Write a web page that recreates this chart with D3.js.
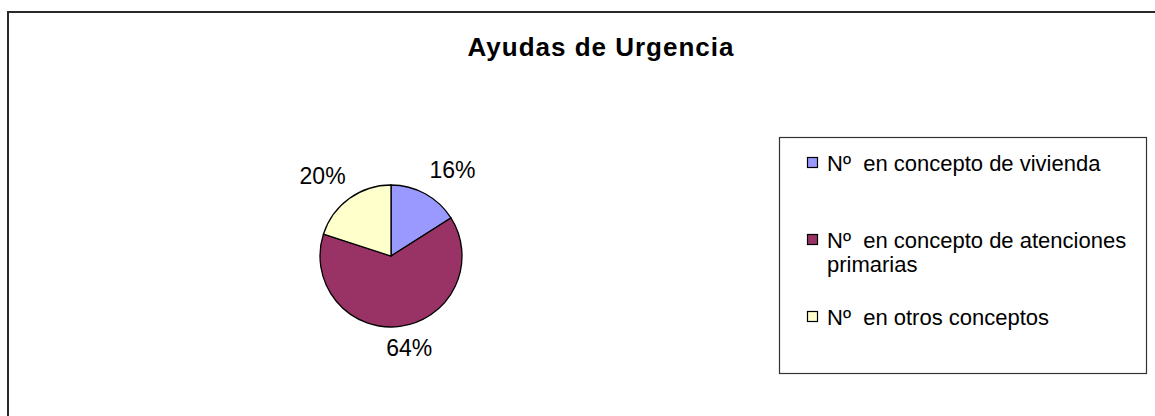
<!DOCTYPE html>
<html>
<head>
<meta charset="utf-8">
<script src="https://cdn.jsdelivr.net/npm/d3@7"></script>
<style>
  body { margin: 0; background: #fff; }
  svg { display: block; font-family: "Liberation Sans", Arial, sans-serif; }
  text { white-space: pre; }
</style>
</head>
<body>
<div class="chart"></div>
<script>
// Ayudas de Urgencia - pie chart
var title = "Ayudas de Urgencia";
var categories = ["Nº  en concepto de vivienda", "Nº  en concepto de atenciones primarias", "Nº  en otros conceptos"];
var legendLines = [["Nº  en concepto de vivienda"], ["Nº  en concepto de atenciones", "primarias"], ["Nº  en otros conceptos"]];
var values = [16, 64, 20];
var colors = ["#9999ff", "#993366", "#ffffcc"];

var svgWidth = 1155;
var svgHeight = 416;

var svg = d3.select(".chart")
            .append("svg")
            .attr("width", svgWidth)
            .attr("height", svgHeight);

// chart area border (runs off the right and bottom edge)
svg.append("rect")
   .attr("x", 8)
   .attr("y", 12)
   .attr("width", 1180)
   .attr("height", 440)
   .attr("fill", "none")
   .attr("stroke", "#2a2a2a")
   .attr("stroke-width", 2);

svg.append("text")
   .attr("x", 601)
   .attr("y", 56)
   .attr("text-anchor", "middle")
   .style("font-size", "26px")
   .style("font-weight", "bold")
   .style("letter-spacing", "1px")
   .text(title);

// Pie
var cx = 391, cy = 256, radius = 71;
var total = d3.sum(values);

var pie = d3.pie().sort(null).value(d => d);
var arc = d3.arc().innerRadius(0).outerRadius(radius);

var pieGroup = svg.append("g")
                  .attr("transform", `translate(${cx}, ${cy})`);

var slices = pie(values);

pieGroup.selectAll("path")
        .data(slices)
        .enter()
        .append("path")
        .attr("d", arc)
        .attr("fill", (d, i) => colors[i])
        .attr("stroke", "#000")
        .attr("stroke-width", 1.3);

// outside end labels, pushed out by their box size
var labelSize = 23;
var pad = 16;
pieGroup.selectAll("text.lbl")
        .data(slices)
        .enter()
        .append("text")
        .attr("class", "lbl")
        .style("font-size", labelSize + "px")
        .attr("text-anchor", "middle")
        .attr("dominant-baseline", "central")
        .each(function(d) {
            var a = (d.startAngle + d.endAngle) / 2;
            var ux = Math.sin(a), uy = -Math.cos(a);
            var txt = Math.round(d.value / total * 100) + "%";
            d3.select(this).text(txt);
            var hw = this.getComputedTextLength() / 2;
            var hh = labelSize * 0.36;
            var x = ux * (radius + pad) + ux * hw * 1.5 + 3;
            var y = uy * (radius + pad) + uy * hh - 3;
            d3.select(this).attr("x", x).attr("y", y);
        });

// Legend
var legend = svg.append("g");
legend.append("rect")
      .attr("x", 779.5)
      .attr("y", 137.5)
      .attr("width", 367)
      .attr("height", 236)
      .attr("fill", "#fff")
      .attr("stroke", "#333")
      .attr("stroke-width", 1.2);

var rowBase = [171, 248, 325];
var items = legend.selectAll("g.item")
                  .data(legendLines)
                  .enter()
                  .append("g")
                  .attr("class", "item")
                  .attr("transform", (d, i) => `translate(0, ${rowBase[i]})`);

items.append("rect")
     .attr("x", 807.5)
     .attr("y", -13.5)
     .attr("width", 10)
     .attr("height", 10)
     .attr("fill", (d, i) => colors[i])
     .attr("stroke", "#000")
     .attr("stroke-width", 1.2);

items.append("text")
     .style("font-size", "22px")
     .selectAll("tspan")
     .data(d => d)
     .enter()
     .append("tspan")
     .attr("x", 827)
     .attr("y", (d, j) => j * 24)
     .text(d => d);
</script>
</body>
</html>
